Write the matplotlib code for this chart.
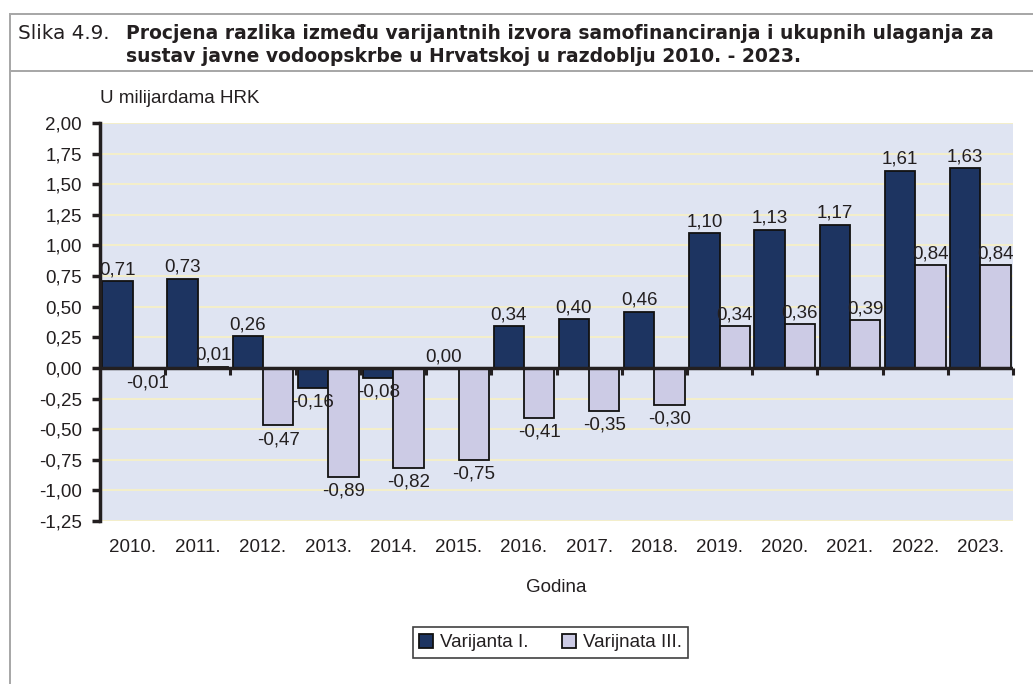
import numpy as np
import matplotlib
matplotlib.use("Agg")
import matplotlib.pyplot as plt
from matplotlib.lines import Line2D
from matplotlib import markers

years = ["2010.", "2011.", "2012.", "2013.", "2014.", "2015.", "2016.",
         "2017.", "2018.", "2019.", "2020.", "2021.", "2022.", "2023."]
var1 = [0.71, 0.73, 0.26, -0.16, -0.08, 0.00, 0.34, 0.40, 0.46, 1.10, 1.13, 1.17, 1.61, 1.63]
var3 = [-0.01, 0.01, -0.47, -0.89, -0.82, -0.75, -0.41, -0.35, -0.30, 0.34, 0.36, 0.39, 0.84, 0.84]
series_names = ["Varijanta I.", "Varijnata III."]
yticks = [-1.25, -1.0, -0.75, -0.5, -0.25, 0.0, 0.25, 0.5, 0.75, 1.0, 1.25, 1.5, 1.75, 2.0]

title_prefix = "Slika 4.9."
title_line1 = "Procjena razlika između varijantnih izvora samofinanciranja i ukupnih ulaganja za"
title_line2 = "sustav javne vodoopskrbe u Hrvatskoj u razdoblju 2010. - 2023."
ylabel_text = "U milijardama HRK"
xlabel_text = "Godina"

NAVY = "#1d3461"
LAV = "#cccbe5"
BG = "#dfe4f2"
GRID = "#f6f0c6"
TXT = "#231f20"
BORDER = "#a8a8a8"
FS = 13.5

W, H = 1033, 684
plt.rcParams['font.family'] = ['Liberation Sans', 'DejaVu Sans']
fig = plt.figure(figsize=(W / 100, H / 100), dpi=100)
fig.patch.set_facecolor("white")

def fx(px):
    return px / W

def fy(py):
    return 1 - py / H

# header border lines
lw_b = 2 * 72 / 100
fig.add_artist(Line2D([fx(10), 1], [fy(14), fy(14)], color=BORDER, lw=lw_b, transform=fig.transFigure))
fig.add_artist(Line2D([fx(10), 1], [fy(71), fy(71)], color=BORDER, lw=lw_b, transform=fig.transFigure))
fig.add_artist(Line2D([fx(10), fx(10)], [fy(14), 0], color=BORDER, lw=lw_b, transform=fig.transFigure))

# title texts, fitted to measured widths
renderer = fig.canvas.get_renderer()

def fitted_text(x, y, s, target_w, weight):
    t = fig.text(x, y, s, fontsize=13, fontweight=weight, color=TXT,
                 family=['DejaVu Sans'], ha='left', va='baseline')
    w = t.get_window_extent(renderer).width
    t.set_fontsize(13 * target_w / w)
    return t

fitted_text(fx(18), fy(39), title_prefix, 92, 'normal')
fitted_text(fx(126), fy(39), title_line1, 859, 'bold')
fitted_text(fx(126), fy(62), title_line2, 671, 'bold')

# axes
ax = fig.add_axes([fx(100), fy(521), (1013 - 100) / W, (521 - 123) / H])
ax.set_facecolor(BG)
x = np.arange(len(years))
bw = 0.465
off = 0.233
ax.bar(x - off, var1, width=bw, color=NAVY, edgecolor="#111111", lw=1.3, zorder=2, label=series_names[0])
ax.bar(x + off, var3, width=bw, color=LAV, edgecolor="#111111", lw=1.3, zorder=2, label=series_names[1])

ax.set_xlim(-0.5, len(years) - 0.5)
ax.set_ylim(-1.25, 2.0)
ax.set_yticks(yticks)
ax.set_yticklabels([f"{v:.2f}".replace('.', ',') for v in yticks], fontsize=FS, color=TXT)
ax.yaxis.grid(True, color=GRID, lw=1.3)
ax.set_axisbelow(True)

for s in ["top", "right", "bottom"]:
    ax.spines[s].set_visible(False)
ax.spines["left"].set_linewidth(2.5)
ax.spines["left"].set_color(TXT)
ax.tick_params(axis='y', direction='out', length=6, width=2.5, pad=7, colors=TXT)

ax.set_xticks(x)
ax.set_xticklabels(years, fontsize=FS, color=TXT)
ax.tick_params(axis='x', length=0, pad=13)

# zero line with small downward ticks at category boundaries
ax.axhline(0, color=TXT, lw=2.5, zorder=3)
bounds = np.arange(0.5, len(years), 1.0)
ax.plot(bounds, np.zeros_like(bounds), ls='none', marker=markers.TICKDOWN,
        ms=5, mew=2.2, color=TXT, zorder=3, clip_on=False)

# data labels
def lab(xs, vals):
    for xi, v in zip(xs, vals):
        txt = f"{v:.2f}".replace('.', ',')
        if v >= 0:
            ax.annotate(txt, (xi, v), xytext=(0, 2), textcoords='offset points',
                        ha='center', va='bottom', fontsize=FS, color=TXT, zorder=4)
        else:
            ax.annotate(txt, (xi, v), xytext=(0, -4), textcoords='offset points',
                        ha='center', va='top', fontsize=FS, color=TXT, zorder=4)

lab(x - off, var1)
lab(x + off, var3)

fig.text(fx(100), fy(103), ylabel_text, fontsize=FS, color=TXT, ha='left', va='baseline')
fig.text(fx(556), fy(587), xlabel_text, fontsize=FS, color=TXT, ha='center', va='center')

leg = fig.legend(loc='center', bbox_to_anchor=(fx(550.5), fy(642.5)), ncol=2,
                 fontsize=FS, frameon=True, fancybox=False, edgecolor='#111111',
                 handlelength=0.75, handleheight=0.75, handletextpad=0.35,
                 columnspacing=1.8, borderpad=0.35, borderaxespad=0)
leg.get_frame().set_linewidth(1.2)
for t in leg.get_texts():
    t.set_color(TXT)

fig.savefig("out.png", dpi=100)
